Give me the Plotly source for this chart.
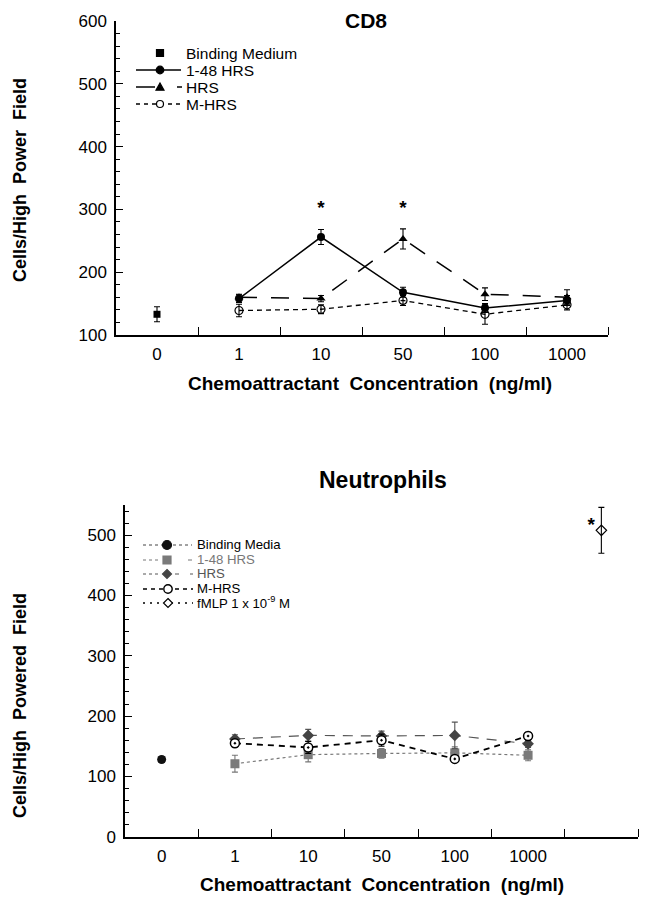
import plotly.graph_objects as go

# ---------------- data ----------------
cd8_tick_labels = ["0", "1", "10", "50", "100", "1000"]
cd8_binding_x = [0]
cd8_binding_y = [133]
cd8_binding_err = [12]
cd8_conc_x = [1, 2, 3, 4, 5]
cd8_148hrs_y = [158, 256, 168, 143, 155]
cd8_148hrs_err = [6, 12, 8, 7, 8]
cd8_hrs_y = [160, 158, 253, 165, 160]
cd8_hrs_err = [5, 5, 16, 10, 12]
cd8_mhrs_y = [139, 141, 155, 133, 148]
cd8_mhrs_err = [10, 7, 8, 16, 8]
cd8_star_x = [2, 3]
cd8_star_y = [300, 300]

neu_tick_labels = ["0", "1", "10", "50", "100", "1000"]
neu_binding_x = [0]
neu_binding_y = [128]
neu_binding_err = [5]
neu_conc_x = [1, 2, 3, 4, 5]
neu_148hrs_y = [121, 136, 138, 139, 135]
neu_148hrs_err = [14, 12, 8, 10, 9]
neu_hrs_y = [162, 168, 167, 168, 154]
neu_hrs_err = [7, 10, 8, 22, 6]
neu_mhrs_y = [155, 148, 160, 129, 167]
neu_mhrs_err = [6, 10, 10, 5, 6]
neu_fmlp_x = [6]
neu_fmlp_y = [508]
neu_fmlp_err = [38]
neu_star_x = [5.86]
neu_star_y = [515]

cd8_legend_names = ["Binding Medium", "1-48 HRS", "HRS", "M-HRS"]
neu_legend_names = ["Binding Media", "1-48 HRS", "HRS", "M-HRS", "fMLP 1 x 10<sup>-9</sup> M"]

W, H = 649, 899
PAGE_OFF = 8  # default body margin of the page
FONT = "Liberation Sans, Arial, Helvetica, sans-serif"


def px_x(p):
    return (p - PAGE_OFF) / W


def px_y(p):
    return 1 - (p - PAGE_OFF) / H


fig = go.Figure()


def err(vals, w=3, color="black"):
    return dict(type="data", array=vals, visible=True, thickness=1.1, width=w, color=color)


# ---------- CD8 (top) ----------
fig.add_trace(go.Scatter(
    x=cd8_binding_x, y=cd8_binding_y, error_y=err(cd8_binding_err),
    mode="markers", name=cd8_legend_names[0],
    marker=dict(symbol="square", size=7, color="black"),
    xaxis="x", yaxis="y", showlegend=False))
fig.add_trace(go.Scatter(
    x=cd8_conc_x, y=cd8_148hrs_y, error_y=err(cd8_148hrs_err),
    mode="lines+markers", name=cd8_legend_names[1],
    line=dict(color="black", width=1.5, dash="solid"),
    marker=dict(symbol="circle", size=8, color="black"),
    xaxis="x", yaxis="y", showlegend=False))
fig.add_trace(go.Scatter(
    x=cd8_conc_x, y=cd8_hrs_y, error_y=err(cd8_hrs_err),
    mode="lines+markers", name=cd8_legend_names[2],
    line=dict(color="black", width=1.5, dash="18px,14px"),
    marker=dict(symbol="triangle-up", size=8, color="black"),
    xaxis="x", yaxis="y", showlegend=False))
fig.add_trace(go.Scatter(
    x=cd8_conc_x, y=cd8_mhrs_y, error_y=err(cd8_mhrs_err),
    mode="lines+markers", name=cd8_legend_names[3],
    line=dict(color="black", width=1.3, dash="5px,4px"),
    marker=dict(symbol="circle-open", size=8, color="black", line=dict(width=1.2)),
    xaxis="x", yaxis="y", showlegend=False))
fig.add_trace(go.Scatter(
    x=cd8_star_x, y=cd8_star_y, mode="text", text=["<b>*</b>"] * len(cd8_star_x),
    textfont=dict(size=19, color="black", family=FONT), showlegend=False,
    xaxis="x", yaxis="y", hoverinfo="skip"))

# ---------- Neutrophils (bottom) ----------
fig.add_trace(go.Scatter(
    x=neu_binding_x, y=neu_binding_y, error_y=err(neu_binding_err, color="#222"),
    mode="lines+markers", name=neu_legend_names[0],
    line=dict(color="#444", width=1, dash="dot"),
    marker=dict(symbol="circle", size=9, color="#111"),
    xaxis="x2", yaxis="y2", showlegend=False))
fig.add_trace(go.Scatter(
    x=neu_conc_x, y=neu_148hrs_y, error_y=err(neu_148hrs_err, color="#777"),
    mode="lines+markers", name=neu_legend_names[1],
    line=dict(color="#777", width=1.2, dash="dot"),
    marker=dict(symbol="square", size=9, color="#7a7a7a"),
    xaxis="x2", yaxis="y2", showlegend=False))
fig.add_trace(go.Scatter(
    x=neu_conc_x, y=neu_hrs_y, error_y=err(neu_hrs_err, color="#555"),
    mode="lines+markers", name=neu_legend_names[2],
    line=dict(color="#555", width=1.2, dash="10px,8px"),
    marker=dict(symbol="diamond", size=9, color="#444"),
    xaxis="x2", yaxis="y2", showlegend=False))
fig.add_trace(go.Scatter(
    x=neu_conc_x, y=neu_mhrs_y, error_y=err(neu_mhrs_err),
    mode="lines+markers", name=neu_legend_names[3],
    line=dict(color="black", width=1.8, dash="6px,5px"),
    marker=dict(symbol="circle-dot", size=9, color="white", line=dict(color="black", width=1.5)),
    xaxis="x2", yaxis="y2", showlegend=False))
fig.add_trace(go.Scatter(
    x=neu_fmlp_x, y=neu_fmlp_y, error_y=err(neu_fmlp_err),
    mode="lines+markers", name=neu_legend_names[4],
    line=dict(color="black", width=1.2, dash="dot"),
    marker=dict(symbol="diamond-open", size=8, color="black", line=dict(width=1.2)),
    xaxis="x2", yaxis="y2", showlegend=False))
fig.add_trace(go.Scatter(
    x=neu_star_x, y=neu_star_y, mode="text", text=["<b>*</b>"] * len(neu_star_x),
    textfont=dict(size=19, color="black", family=FONT), showlegend=False,
    xaxis="x2", yaxis="y2", hoverinfo="skip"))

tickfont = dict(family=FONT, size=17, color="black")


def xaxis_cfg(domain, anchor, labels, n_slots):
    return dict(
        domain=domain, anchor=anchor, range=[-0.5, n_slots - 0.5],
        tickmode="array", tickvals=list(range(len(labels))), ticktext=labels,
        ticks="", ticklen=0, tickfont=tickfont, ticklabelstandoff=3,
        showline=True, linecolor="black", linewidth=1.5,
        showgrid=False, zeroline=False, fixedrange=True, automargin=False,
        minor=dict(tickmode="array", tickvals=[i + 0.5 for i in range(n_slots)],
                   ticks="inside", ticklen=8, tickcolor="black", tickwidth=1.3, showgrid=False),
    )


def yaxis_cfg(domain, anchor, rng):
    return dict(
        domain=domain, anchor=anchor, range=rng,
        tickmode="linear", tick0=0, dtick=100,
        ticks="inside", ticklen=7, tickwidth=1.3, tickcolor="black",
        tickfont=tickfont, ticklabelstandoff=4,
        showline=True, linecolor="black", linewidth=1.5,
        showgrid=False, zeroline=False, fixedrange=True, automargin=False,
        minor=dict(dtick=20, tick0=0, ticks="inside", ticklen=4, tickcolor="black",
                   tickwidth=1, showgrid=False),
    )


# ---------- hand-drawn legends (shapes + annotations, in paper coords) ----------
shapes = []
annotations = []


def seg(x0, x1, y, dash, color="black", width=1.3):
    shapes.append(dict(type="line", xref="paper", yref="paper",
                       x0=px_x(x0), x1=px_x(x1), y0=px_y(y), y1=px_y(y),
                       line=dict(color=color, width=width, dash=dash)))


def marker(kind, cx, cy, r, fill, line_color="black", lw=1.2):
    if kind == "square":
        shapes.append(dict(type="rect", xref="paper", yref="paper",
                           x0=px_x(cx - r), x1=px_x(cx + r), y0=px_y(cy + r), y1=px_y(cy - r),
                           fillcolor=fill, line=dict(color=line_color, width=lw)))
    elif kind == "circle":
        shapes.append(dict(type="circle", xref="paper", yref="paper",
                           x0=px_x(cx - r), x1=px_x(cx + r), y0=px_y(cy + r), y1=px_y(cy - r),
                           fillcolor=fill, line=dict(color=line_color, width=lw)))
    elif kind == "triangle":
        path = "M {:.5f},{:.5f} L {:.5f},{:.5f} L {:.5f},{:.5f} Z".format(
            px_x(cx), px_y(cy - r), px_x(cx + r), px_y(cy + r * 0.8), px_x(cx - r), px_y(cy + r * 0.8))
        shapes.append(dict(type="path", xref="paper", yref="paper", path=path,
                           fillcolor=fill, line=dict(color=line_color, width=lw)))
    elif kind == "diamond":
        path = "M {:.5f},{:.5f} L {:.5f},{:.5f} L {:.5f},{:.5f} L {:.5f},{:.5f} Z".format(
            px_x(cx), px_y(cy - r), px_x(cx + r), px_y(cy), px_x(cx), px_y(cy + r), px_x(cx - r), px_y(cy))
        shapes.append(dict(type="path", xref="paper", yref="paper", path=path,
                           fillcolor=fill, line=dict(color=line_color, width=lw)))


def legend_block(names, colors, x, y_mid, base_size, text_size):
    lines = ["<span style='font-size:{}px;fill:{}'>{}</span>".format(text_size, c, n)
             for n, c in zip(names, colors)]
    annotations.append(dict(text="<br>".join(lines), x=px_x(x), y=px_y(y_mid),
                            xref="paper", yref="paper", xanchor="left", yanchor="middle",
                            align="left", showarrow=False,
                            font=dict(size=base_size, family=FONT, color="black")))


# CD8 legend
top_rows = [53, 70, 87, 104]
marker("square", 160, top_rows[0], 3.5, "black")
seg(136, 181, top_rows[1], "solid", width=1.5)
marker("circle", 160, top_rows[1], 3.8, "black")
seg(136, 155, top_rows[2], "solid", width=1.5)
seg(177, 182, top_rows[2], "solid", width=1.5)
marker("triangle", 160, top_rows[2], 4, "black")
seg(136, 181, top_rows[3], "4px,4px", width=1.3)
marker("circle", 160, top_rows[3], 3.5, "white")
legend_block(cd8_legend_names, ["black"] * 4, 184, 79, 13.1, 15.5)

# Neutrophil legend
bot_rows = [545, 560, 574, 589, 603]
seg(143, 192, bot_rows[0], "dot", color="#444", width=1)
marker("circle", 167, bot_rows[0], 4.5, "#111", line_color="#111")
seg(143, 161, bot_rows[1], "dot", color="#777", width=1)
seg(188, 192, bot_rows[1], "solid", color="#777", width=1)
marker("square", 167, bot_rows[1], 4, "#7a7a7a", line_color="#7a7a7a")
seg(143, 160, bot_rows[2], "dot", color="#555", width=1)
seg(175, 179, bot_rows[2], "solid", color="#555", width=1)
seg(190, 193, bot_rows[2], "solid", color="#555", width=1)
marker("diamond", 167, bot_rows[2], 4.5, "#444", line_color="#444")
seg(143, 193, bot_rows[3], "4px,4px", width=1.3)
marker("circle", 168, bot_rows[3], 4.2, "white", lw=1.4)
seg(143, 193, bot_rows[4], "2px,5px", width=1.3)
marker("diamond", 168, bot_rows[4], 4.5, "white", lw=1.2)
neu_label_colors = ["black", "#777", "#555", "black", "black"]
legend_block(neu_legend_names, neu_label_colors, 195, 574, 11.3, 13.2)

annotations += [
    dict(text="<b>CD8</b>", x=px_x(366), y=px_y(21), xref="paper", yref="paper",
         xanchor="center", yanchor="middle", showarrow=False, font=dict(size=21, family=FONT)),
    dict(text="<b>Neutrophils</b>", x=px_x(383), y=px_y(480), xref="paper", yref="paper",
         xanchor="center", yanchor="middle", showarrow=False, font=dict(size=23, family=FONT)),
    dict(text="<b>Chemoattractant  Concentration  (ng/ml)</b>", x=px_x(370), y=px_y(383),
         xref="paper", yref="paper", xanchor="center", yanchor="middle", showarrow=False,
         font=dict(size=19, family=FONT)),
    dict(text="<b>Chemoattractant  Concentration  (ng/ml)</b>", x=px_x(382), y=px_y(884),
         xref="paper", yref="paper", xanchor="center", yanchor="middle", showarrow=False,
         font=dict(size=19, family=FONT)),
    dict(text="<b>Cells/High  Power  Field</b>", x=px_x(20), y=px_y(180), textangle=-90,
         xref="paper", yref="paper", xanchor="center", yanchor="middle", showarrow=False,
         font=dict(size=18, family=FONT)),
    dict(text="<b>Cells/High  Powered  Field</b>", x=px_x(20), y=px_y(706), textangle=-90,
         xref="paper", yref="paper", xanchor="center", yanchor="middle", showarrow=False,
         font=dict(size=18, family=FONT)),
]

fig.update_layout(
    template="none",
    width=W, height=H,
    margin=dict(l=0, r=0, t=0, b=0, pad=0, autoexpand=False),
    paper_bgcolor="white", plot_bgcolor="white",
    font=dict(family=FONT, color="black"),
    xaxis=xaxis_cfg([px_x(116), px_x(608)], "y", cd8_tick_labels, 6),
    yaxis=yaxis_cfg([px_y(335), px_y(21)], "x", [100, 600]),
    xaxis2=xaxis_cfg([px_x(125), px_x(638)], "y2", neu_tick_labels, 7),
    yaxis2=yaxis_cfg([px_y(836.7), px_y(505)], "x2", [0, 550]),
    showlegend=False,
    shapes=shapes,
    annotations=annotations,
)

fig.write_html("out.html")
